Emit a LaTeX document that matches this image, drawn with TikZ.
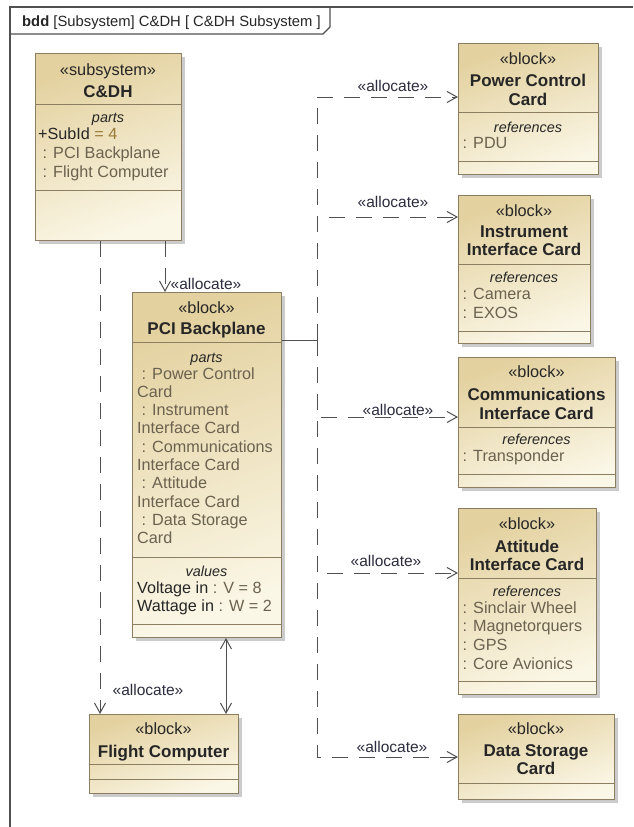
\documentclass[tikz,border=0pt]{standalone}
\usepackage{fontspec}
\setmainfont{Liberation Sans}
\usetikzlibrary{arrows.meta,shadows,calc}

\definecolor{frameln}{HTML}{505050}
\definecolor{boxln}{HTML}{8C7E60}
\definecolor{tanTop}{HTML}{E3D19F}
\definecolor{tanBot}{HTML}{FBF7E7}
\definecolor{ink}{HTML}{262626}
\definecolor{partink}{HTML}{6B624F}
\definecolor{valink}{HTML}{9A7A3A}
\definecolor{relink}{HTML}{505050}
\definecolor{lblink}{HTML}{2C2C3E}

% one text line per node, stacked downwards
\newcommand\itemrows[5]{%
  \foreach \txt [count=\k] in {#5}{%
    \node[item] (#1-\k) at (#2,{#3+(\k-1)*#4}) {\txt};}}
% compartment separator inside a block
\newcommand\divider[2]{%
  \draw[divln] ($(#1.north west)+(0,#2)$) -- ($(#1.north east)+(0,#2)$);}

\begin{document}
\begin{tikzpicture}[x=1pt,y=-1pt,
  frame/.style={draw=frameln,line width=1.2pt},
  blk/.style={draw=boxln,line width=1pt,top color=tanTop,bottom color=tanBot,
    shading angle=20,anchor=north west,inner sep=0pt,
    drop shadow={shadow xshift=3pt,shadow yshift=-3pt,fill=black!45,opacity=.45}},
  divln/.style={draw=boxln,line width=1pt},
  stereo/.style={font=\fontsize{16.3}{18}\selectfont,text=ink,inner sep=0pt,anchor=base},
  btitle/.style={font=\bfseries\fontsize{17}{18}\selectfont,text=ink,inner sep=0pt,anchor=base},
  ctitle/.style={font=\itshape\fontsize{14.4}{17}\selectfont,text=ink,inner sep=0pt,anchor=base},
  item/.style={font=\fontsize{16.2}{18}\selectfont,text=partink,inner sep=0pt,anchor=base west},
  lbl/.style={font=\fontsize{15.5}{18}\selectfont,text=lblink,inner sep=0pt,anchor=base},
  alloc/.style={draw=relink,line width=1pt,dash pattern=on 16pt off 11pt,
    -{Straight Barb[length=10pt,width=11pt]}},
  assoc/.style={draw=relink,line width=1pt,
    {Straight Barb[length=10pt,width=11pt]}-{Straight Barb[length=10pt,width=11pt]}}
]
\useasboundingbox (0,0) rectangle (633,827);
\fill[white] (0,0) rectangle (633,827);

% diagram frame and its name tab
\draw[frame] (633,7) -- (10,7) -- (10,827);
\node[anchor=base west,inner sep=0pt,text=ink,font=\fontsize{14.8}{18}\selectfont]
  (ftitle) at (22,27) {\textbf{bdd} [Subsystem] C\&DH [ C\&DH Subsystem ]};
\coordinate (tabL) at (10,34);
\draw[frame] (tabL) -- ($(ftitle.east |- tabL)+(2,0)$) -- ++(7,-7) -- ++(0,-20);

% ---------- C&DH subsystem ----------
\node[blk,minimum width=146pt,minimum height=187pt] (cdh) at (35,53) {};
\divider{cdh}{51}\divider{cdh}{137}
\node[stereo] (cdh-s) at (108,75) {«subsystem»};
\node[btitle] (cdh-t) at (108,97) {C\&DH};
\node[ctitle] (cdh-p) at (108,122) {parts};
\itemrows{cdh-i}{38}{139}{19}{{\textcolor{ink}{+SubId} \textcolor{valink}{= 4}},~: PCI Backplane,~: Flight Computer}

% ---------- PCI Backplane ----------
\node[blk,minimum width=149pt,minimum height=345pt] (pci) at (132,292) {};
\divider{pci}{50}\divider{pci}{265}\divider{pci}{332}
\node[stereo] (pci-s) at (206.5,313) {«block»};
\node[btitle] (pci-t) at (206.5,334) {PCI Backplane};
\node[ctitle] (pci-p) at (206.5,362) {parts};
\itemrows{pci-i}{137}{379}{18.3}{~: Power Control,Card,~: Instrument,Interface Card,~: Communications,Interface Card,~: Attitude,Interface Card,~: Data Storage,Card}
\node[ctitle] (pci-v) at (206.5,576) {values};
\itemrows{pci-v}{137}{593}{18.8}{{\textcolor{ink}{Voltage in} : V = 8},{\textcolor{ink}{Wattage in} : W = 2}}

% ---------- Flight Computer ----------
\node[blk,minimum width=149pt,minimum height=79pt] (fc) at (89,714) {};
\divider{fc}{50}\divider{fc}{65}
\node[stereo] (fc-s) at (163.5,734) {«block»};
\node[btitle] (fc-t) at (163.5,757) {Flight Computer};

% ---------- Power Control Card ----------
\node[blk,minimum width=140pt,minimum height=131pt] (pcc) at (458,43) {};
\divider{pcc}{69}\divider{pcc}{118}
\node[stereo] (pcc-s) at (528,64) {«block»};
\node[btitle] (pcc-t1) at (528,86) {Power Control};
\node[btitle] (pcc-t2) at (528,105) {Card};
\node[ctitle] (pcc-r) at (528,132) {references};
\itemrows{pcc-i}{458}{148}{18.6}{~: PDU}

% ---------- Instrument Interface Card ----------
\node[blk,minimum width=132pt,minimum height=148pt] (iic) at (458,195) {};
\divider{iic}{69}\divider{iic}{136}
\node[stereo] (iic-s) at (524,216) {«block»};
\node[btitle] (iic-t1) at (524,237) {Instrument};
\node[btitle] (iic-t2) at (524,255) {Interface Card};
\node[ctitle] (iic-r) at (524,282) {references};
\itemrows{iic-i}{458}{299}{19}{~: Camera,~: EXOS}

% ---------- Communications Interface Card ----------
\node[blk,minimum width=157pt,minimum height=130pt] (cic) at (458,357) {};
\divider{cic}{70}\divider{cic}{117}
\node[stereo] (cic-s) at (536.5,377) {«block»};
\node[btitle] (cic-t1) at (536.5,400) {Communications};
\node[btitle] (cic-t2) at (536.5,419) {Interface Card};
\node[ctitle] (cic-r) at (536.5,444) {references};
\itemrows{cic-i}{458}{461}{18.6}{~: Transponder}

% ---------- Attitude Interface Card ----------
\node[blk,minimum width=138pt,minimum height=186pt] (aic) at (458,508) {};
\divider{aic}{70}\divider{aic}{173}
\node[stereo] (aic-s) at (527,529) {«block»};
\node[btitle] (aic-t1) at (527,552) {Attitude};
\node[btitle] (aic-t2) at (527,570) {Interface Card};
\node[ctitle] (aic-r) at (527,596) {references};
\itemrows{aic-i}{458}{613}{18.7}{~: Sinclair Wheel,~: Magnetorquers,~: GPS,~: Core Avionics}

% ---------- Data Storage Card ----------
\node[blk,minimum width=156pt,minimum height=85pt] (dsc) at (458,714) {};
\divider{dsc}{69}
\node[stereo] (dsc-s) at (536,734) {«block»};
\node[btitle] (dsc-t1) at (536,756) {Data Storage};
\node[btitle] (dsc-t2) at (536,774) {Card};

% ---------- allocations from the subsystem ----------
\draw[alloc] ($(cdh.south west)+(130,0)$) -- ($(cdh.south west |- pci.north)+(130,0)$);
\node[lbl] (a-pci) at (206,289) {«allocate»};
\draw[alloc] ($(cdh.south west)+(65,0)$) -- ($(cdh.south west |- fc.north)+(65,0)$);
\node[lbl] (a-fc) at (148,695) {«allocate»};

% association between backplane and flight computer
\draw[assoc] ($(pci.south west)+(94,0)$) -- ($(pci.south west |- fc.north)+(94,0)$);

% ---------- allocations from the backplane to the cards ----------
\coordinate (busJ) at (317,340);
\draw[draw=relink,line width=1pt] (pci.east |- busJ) -- (busJ);
\draw[alloc] (busJ) |- ($(pcc.north west)+(0,54)$);
\draw[alloc] (busJ) |- ($(iic.north west)+(0,22)$);
\draw[alloc] (busJ) |- ($(cic.north west)+(0,60)$);
\draw[alloc] (busJ) |- ($(aic.north west)+(0,65)$);
\draw[alloc] (busJ) |- ($(dsc.north west)+(0,43)$);
\node[lbl] (a-pcc) at (393,91) {«allocate»};
\node[lbl] (a-iic) at (393,207) {«allocate»};
\node[lbl] (a-cic) at (398,415) {«allocate»};
\node[lbl] (a-aic) at (386,566) {«allocate»};
\node[lbl] (a-dsc) at (392,752) {«allocate»};
\end{tikzpicture}
\end{document}
